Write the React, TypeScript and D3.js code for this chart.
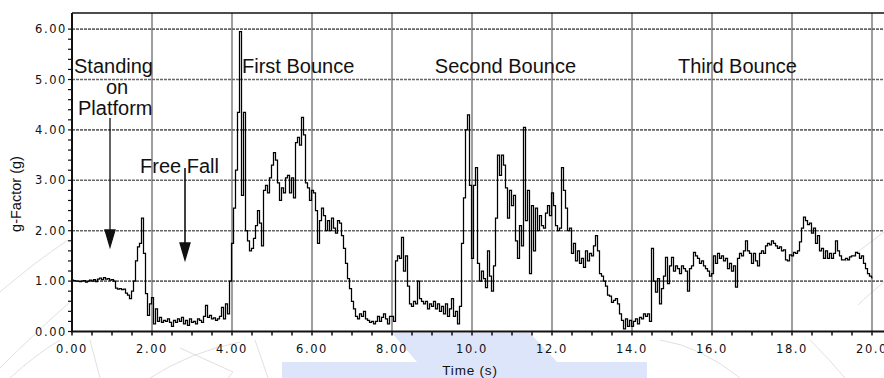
import React from 'react';
import * as d3 from 'd3';

// g-factor samples, one every 0.05 s, one row per second
const step = 0.05;
const gFactor = [
  // 0 s
  1.02, 1.01, 1.0, 1.0, 0.99, 1.0, 1.01, 0.98, 1.0, 1.02, 1.0, 1.03, 0.99, 1.04, 1.06, 1.03, 1.07, 1.04, 1.05, 1.02,
  // 1 s
  1.03, 1.0, 0.86, 0.84, 0.85, 0.83, 0.84, 0.76, 0.72, 0.65, 0.8, 1.0, 1.4, 1.68, 1.75, 2.25, 1.55, 0.75, 0.32, 0.55,
  // 2 s
  0.67, 0.15, 0.45, 0.2, 0.28, 0.18, 0.22, 0.2, 0.25, 0.18, 0.1, 0.22, 0.18, 0.25, 0.2, 0.28, 0.15, 0.22, 0.12, 0.25,
  // 3 s
  0.18, 0.2, 0.15, 0.25, 0.22, 0.18, 0.3, 0.52, 0.28, 0.32, 0.25, 0.27, 0.22, 0.25, 0.3, 0.48, 0.25, 0.55, 0.35, 1.0,
  // 4 s
  1.75, 2.45, 3.2, 4.35, 5.95, 2.7, 4.35, 2.0, 1.8, 1.6, 1.65, 1.85, 2.1, 2.4, 2.15, 1.7, 2.8, 2.9, 2.75, 3.05,
  // 5 s
  3.3, 3.55, 3.4, 2.95, 2.6, 2.85, 2.75, 3.05, 3.1, 2.75, 3.05, 2.65, 3.75, 3.85, 3.7, 4.25, 3.9, 2.95, 2.85, 2.6,
  // 6 s
  2.8, 2.75, 2.4, 1.75, 2.2, 2.45, 2.3, 2.0, 2.2, 2.0, 2.25, 2.05, 1.95, 2.2, 2.15, 1.9, 1.65, 1.35, 1.05, 0.85,
  // 7 s
  0.6, 0.45, 0.3, 0.25, 0.35, 0.3, 0.4, 0.25, 0.22, 0.18, 0.2, 0.15, 0.2, 0.3, 0.2, 0.28, 0.35, 0.25, 0.15, 0.3,
  // 8 s
  0.3, 0.2, 1.4, 1.5, 1.45, 1.87, 1.2, 1.5, 0.9, 0.55, 0.5, 0.6, 0.55, 1.0, 0.65, 0.6, 0.55, 0.6, 0.45, 0.55,
  // 9 s
  0.5, 0.6, 0.45, 0.55, 0.4, 0.5, 0.35, 0.55, 0.3, 0.45, 0.65, 0.3, 0.4, 0.15, 0.5, 1.75, 2.65, 4.0, 4.3, 2.9,
  // 10 s
  1.45, 2.9, 3.25, 1.35, 1.0, 1.2, 1.05, 0.87, 1.6, 1.1, 0.8, 1.3, 2.25, 3.5, 3.1, 3.5, 3.3, 2.85, 2.25, 2.8,
  // 11 s
  2.5, 2.7, 1.8, 1.45, 2.1, 1.7, 4.05, 2.2, 2.8, 1.15, 2.5, 1.6, 2.45, 2.0, 2.3, 2.1, 2.05, 2.35, 2.5, 2.3,
  // 12 s
  2.75, 2.5, 2.1, 2.0, 2.05, 3.25, 2.8, 2.45, 2.0, 2.05, 1.55, 1.75, 1.4, 1.6, 1.35, 1.45, 1.27, 1.6, 1.4, 1.55,
  // 13 s
  1.5, 1.7, 1.9, 1.6, 1.15, 1.1, 1.0, 0.9, 0.72, 0.7, 0.58, 0.62, 0.65, 0.55, 0.35, 0.22, 0.05, 0.25, 0.1, 0.22,
  // 14 s
  0.1, 0.2, 0.25, 0.15, 0.28, 0.25, 0.35, 0.3, 0.35, 0.2, 1.65, 1.0, 0.78, 1.05, 0.55, 0.85, 1.1, 1.47, 0.95, 1.3,
  // 15 s
  1.47, 1.2, 1.3, 1.25, 1.15, 1.3, 1.25, 1.2, 0.8, 1.25, 1.3, 1.57, 1.5, 1.45, 1.35, 1.4, 1.3, 1.25, 1.2, 1.1,
  // 16 s
  1.15, 1.5, 1.35, 1.55, 1.45, 1.5, 1.4, 1.45, 1.25, 1.35, 1.2, 1.3, 0.88, 1.45, 1.55, 1.5, 1.6, 1.8, 1.6, 1.55,
  // 17 s
  1.35, 1.55, 1.4, 1.3, 1.55, 1.6, 1.55, 1.7, 1.75, 1.72, 1.8, 1.75, 1.7, 1.65, 1.68, 1.6, 1.62, 1.42, 1.4, 1.52,
  // 18 s
  1.5, 1.57, 1.55, 1.6, 1.78, 2.05, 2.27, 2.2, 2.12, 2.15, 1.95, 2.05, 1.75, 1.9, 1.6, 1.65, 1.45, 1.6, 1.45, 1.55,
  // 19 s
  1.45, 1.55, 1.8, 1.6, 1.5, 1.42, 1.42, 1.45, 1.42, 1.48, 1.5, 1.5, 1.57, 1.55, 1.45, 1.5, 1.35, 1.25, 1.15, 1.1,
  // 20 s
  1.07,
];

const xTicks = [0, 2, 4, 6, 8, 10, 12, 14, 16, 18, 20];
const xTickLabels = ['0.00', '2.00', '4.00', '6.00', '8.00', '10.0', '12.0', '14.0', '16.0', '18.0', '20.0'];
const yTicks = [0, 1, 2, 3, 4, 5, 6];
const yTickLabels = ['0.00', '1.00', '2.00', '3.00', '4.00', '5.00', '6.00'];

const phases = [
  { label: 'First Bounce', t: 4.25 },
  { label: 'Second Bounce', t: 9.07 },
  { label: 'Third Bounce', t: 15.15 },
];

const W = 884;
const H = 378;
const left = 72;
const top = 13;
const bottom = 331.5;

export default function App() {
  const x = d3.scaleLinear().domain([0, 20.3]).range([left, W]);
  const y = d3.scaleLinear().domain([0, 6.32]).range([bottom, top]);

  const pts: [number, number][] = gFactor.map((v, i) => [i * step, v]);
  const line = d3
    .line<[number, number]>()
    .x((d) => x(d[0]) + 0.5)
    .y((d) => y(d[1]))
    .curve(d3.curveStep);

  const minorX = d3.range(0, 20.01, 0.5);
  const minorY = d3.range(0, 6.01, 0.2);

  const labelFont = "'DejaVu Sans', sans-serif";
  const textFont = "'Liberation Sans', Arial, sans-serif";

  return (
    <svg width={W} height={H} style={{ position: 'absolute', left: 0, top: 0, background: '#fff' }}>
      {/* faint watermark behind the chart */}
      <g fill="none" stroke="#e0e0e0" strokeWidth={1}>
        <path d="M0,292 Q35,262 68,240" />
        <path d="M0,368 Q38,330 70,302" />
        <path d="M10,378 Q35,355 60,340" />
        <path d="M90,340 L100,378" />
        <path d="M255,340 L268,378" />
        <path d="M180,348 L233,372 L228,378" />
        <path d="M150,378 Q190,352 240,342" />
        <path d="M660,340 Q700,346 740,378" />
        <path d="M810,340 Q830,360 845,378" />
        <path d="M884,232 Q860,250 845,262" />
        <path d="M884,282 Q868,295 858,305" />
      </g>
      <polygon points="392,333 530,333 557,362 647,362 647,378 282,378 282,362 417,362" fill="#dde5fa" />

      {/* grid */}
      <g>
        {xTicks.slice(1).map((t) => (
          <line key={t} x1={x(t)} x2={x(t)} y1={top} y2={bottom} stroke="#6a6a6a" strokeWidth={1.3} />
        ))}
        {yTicks.slice(1).map((t) => (
          <line key={t} x1={left} x2={W} y1={y(t)} y2={y(t)} stroke="#666" strokeWidth={1.6} strokeDasharray="3,1" />
        ))}
      </g>

      {/* data */}
      <path d={line(pts) || ''} fill="none" stroke="#000" strokeWidth={1.25} />

      {/* frame and axes */}
      <line x1={left} x2={W} y1={top} y2={top} stroke="#111" strokeWidth={1.5} />
      <line x1={left} x2={left} y1={top} y2={bottom + 1} stroke="#111" strokeWidth={2} />
      <line x1={left - 1} x2={W} y1={bottom} y2={bottom} stroke="#111" strokeWidth={2.2} />
      {minorX.map((t) => (
        <line key={t} x1={x(t)} x2={x(t)} y1={bottom} y2={bottom + 4} stroke="#111" strokeWidth={1.5} />
      ))}
      {minorY.map((t) => (
        <line key={t} x1={left - 4} x2={left} y1={y(t)} y2={y(t)} stroke="#111" strokeWidth={1.2} />
      ))}

      {/* tick labels */}
      <g fontFamily={labelFont} fontSize={11.5} fill="#111" letterSpacing={1.6}>
        {xTicks.map((t, i) => (
          <text key={t} x={x(t)} y={353} textAnchor="middle">
            {xTickLabels[i]}
          </text>
        ))}
        {yTicks.map((t, i) => (
          <text key={t} x={67} y={y(t) + 4} textAnchor="end">
            {yTickLabels[i]}
          </text>
        ))}
      </g>

      {/* axis titles */}
      <text x={x(9.95)} y={375} textAnchor="middle" fontFamily={textFont} fontSize={13.5} fill="#111" letterSpacing={0.8}>
        Time (s)
      </text>
      <text
        transform="translate(21,194) rotate(-90)"
        textAnchor="middle"
        fontFamily={textFont}
        fontSize={14.5}
        fill="#111"
      >
        g-Factor (g)
      </text>

      {/* annotations */}
      <g fontFamily={textFont} fontSize={20} fill="#111">
        <text x={74} y={73}>Standing</text>
        <text x={117} y={94} textAnchor="middle">on</text>
        <text x={78} y={115}>Platform</text>
        <text x={140} y={173}>Free Fall</text>
        {phases.map((p) => (
          <text key={p.label} x={x(p.t)} y={73}>
            {p.label}
          </text>
        ))}
      </g>
      <g stroke="#111" strokeWidth={1.3} fill="#111">
        <line x1={110} x2={110} y1={118} y2={236} />
        <polygon points="105,230 115,230 110,247" />
        <line x1={185} x2={185} y1={168} y2={248} strokeWidth={1.6} />
        <polygon points="180,243 190,243 185,260" />
      </g>
    </svg>
  );
}
